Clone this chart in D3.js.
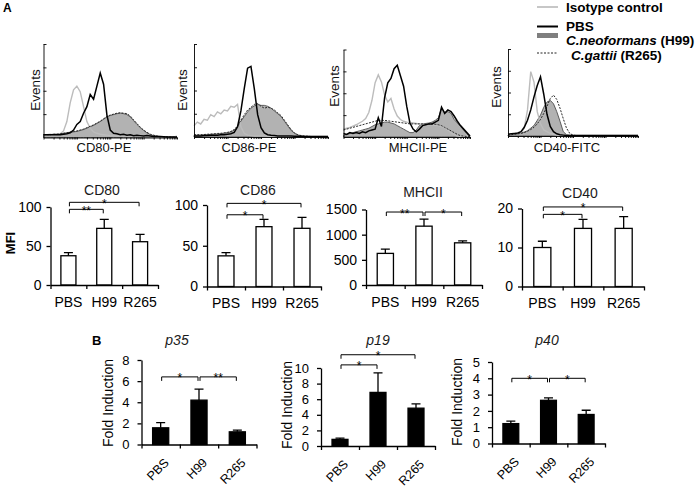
<!DOCTYPE html>
<html><head><meta charset="utf-8">
<script src="https://cdn.jsdelivr.net/npm/d3@7/dist/d3.min.js"></script>
<style>
html,body{margin:0;padding:0;background:#fff;}
svg{display:block;}
text{font-family:Arial,"Liberation Sans",Helvetica,sans-serif;}
</style></head><body>
<svg id="fig" width="700" height="488"></svg>
<script>
// ---------------- DATA ----------------
const categories = ["PBS","H99","R265"];
const histLabels = ["CD80-PE","CD86-PE","MHCII-PE","CD40-FITC"];
const legendLabels = ["Isotype control","PBS","C.neoformans","C.gattii"];
const legendStrains = ["","","(H99)","(R265)"];

// flow histograms (relative event counts, % of axis height), 41 channels across 4 log decades
const cd80Iso  = [3,3,3.5,3,3.5,4,7,17,37,51, 55,49,33,17,10,6,4.5,3.5,3,2.5, 2,2,1.5,1.5,1,1,1,1,1,1, 0.8,0.8,0.8,0.6,0.6,0.6,0.5,0.5,0.5,0.5,1.5];
const cd80PBS  = [3,3,3,3,3,3,3.5,4,5,8, 14,17,26,33,46,41,55,69,57,24, 8,4.5,4,3,3.5,2.5,3,2,2.5,2, 1.5,2,1.5,1,1,1,0.8,0.6,0.5,0.5,0.5];
const cd80H99  = [3,3,3,3.5,3.5,4,4.5,5,5.5,6, 6.5,7.5,8.5,10,11.5,13,15,17,19.5,22, 23.5,24.5,25.5,26,25.5,24.5,22,18,14,10.5, 7.5,5,3,2,1.5,1,1,0.8,0.6,0.5,0.5];
const cd80R265 = [3,3,3,3.5,3.5,4,4.5,5,6,6.5, 7,8,9,10.5,12,13.5,15.5,17.5,20,22.5, 24,25,26,26.5,26,25.5,23,19,15,11, 8,5.5,3.5,2.5,1.5,1,1,0.8,0.6,0.5,0.5];

const cd86Iso  = [12,16,14,19,18,24,22,27,25,29, 28,33,32,35,11,4,2,1.5,1,1, 1,1,0.8,0.8,0.8,0.8,0.6,0.6,0.6,0.6, 0.5,0.5,0.5,0.5,0.5,0.5,0.5,0.5,0.5,0.5,0.5];
const cd86PBS  = [1,1,1,1.5,1.5,2,2,2,2.5,2.5, 3,3.5,5,11,28,52,74,76,52,24, 10,4.5,2.5,1.8,1.5,1.2,1,1,1,1, 0.8,0.8,0.8,0.6,0.6,0.6,0.5,0.5,0.5,0.5,0.5];
const cd86H99  = [1.8,2,2,2.2,2.5,2.8,3,3.3,3.6,4, 4.7,5.5,7.5,11,17,22,27,31,33.5,35, 34,34,33,31,28,25,22,17,12,7, 4,2,1,0.8,0.7,0.5,0.5,0.5,0.5,0.5,0.5];
const cd86R265 = [2.5,2.5,2.5,2.7,3,3.2,3.5,3.8,4,4.5, 5,6,8,12,18,24,29,32,35,36, 33,31,32,31,29,26,23,18,13,8, 4.5,2.5,1.5,1,0.8,0.5,0.5,0.5,0.5,0.5,0.5];

const mhcIso   = [9,10,11,12.5,14,16,18,21,28,42, 62,71,63,48,40,44,32,24,20,18, 17,16.5,16,15.5,15,15,14.5,14,14,13.5, 13,12,11,8,5,2.5,1,0.5,0.5,0.5,0.5];
const mhcPBS   = [4,3,5,4,5,4,6,5,7,8, 9,22,12,45,62,67,78,82,70,58, 35,16,9,6,9,13,14,15,15,17, 19,34,27,31,29,24,18,13,9,5,1];
const mhcH99   = [2,3,4,5,6,7,8,9,10,12, 14,15,16,17,17,16,15,13,11,9, 7,5,5,8,13,15,15.5,16,17,19, 22,33,28,29,27,20,16,12,8,4,0.5];
const mhcR265  = [8,9,10,11,12,13,14,15,16,17, 18,19,19,19,18.5,18,17.5,17,16.5,16, 15.5,15,15,15,15,15,15,15,15,14.5, 14,13,11,9,7,5,3,1.5,1,0.5,0.5];

const cd40Iso  = [2,2,2.5,3,4,9,30,74,62,28, 14,7,5,3,2,1,0.5,0.5,0.5,0.5, 0.5,0.5,0.5,0.5,0.5,0.5,0.5,0.5,0.5,0.5, 0.5,0.5,0.5,0.5,0.5,0.5,0.5,0.5,0.5,0.5,0.5];
const cd40PBS  = [2,2.5,3,3.5,5,10,18,30,45,58, 68,48,25,11,5,2.5,1.5,1,0.5,0.5, 0.5,0.5,0.5,0.5,0.5,0.5,0.5,0.5,0.5,0.5, 0.5,0.5,0.5,0.5,0.5,0.5,0.5,0.5,0.5,0.5,0.5];
const cd40H99  = [1,1.5,2,2.5,3.5,4.5,6,9,12,18, 24,33,39,41,37,28,17,5,1.5,0.8, 0.5,0.5,0.5,0.5,0.5,0.5,0.5,0.5,0.5,0.5, 0.5,0.5,0.5,0.5,0.5,0.5,0.5,0.5,0.5,0.5,0.5];
const cd40R265 = [1,1.5,2,2.5,3,4,5.5,7.5,10,14, 19,26,34,43,47,42,32,20,9,3, 1,0.5,0.5,0.5,0.5,0.5,0.5,0.5,0.5,0.5, 0.5,0.5,0.5,0.5,0.5,0.5,0.5,0.5,0.5,0.5,0.5];

// bar charts: mean and upper SD
const cd80Mean = [37.5,72.6,55.5],  cd80Err = [4,11.5,9.5];
const cd86Mean = [37.6,73.4,71.4],  cd86Err = [4,9,13.5];
const mhcMean  = [628,1169,838],    mhcErr  = [85,139,40];
const cd40Mean = [10,14.9,14.9],    cd40Err = [1.6,2.3,3];
const p35Mean  = [1.58,4.2,1.2],    p35Err  = [0.5,1.05,0.16];
const p19Mean  = [0.85,6.87,4.85],  p19Err  = [0.15,2.5,0.55];
const p40Mean  = [1.22,2.65,1.78],  p40Err  = [0.15,0.15,0.26];

const cd80Ticks = [0,50,100];
const cd86Ticks = [0,50,100];
const mhcTicks  = [0,500,1000,1500];
const cd40Ticks = [0,10,20];
const p35Ticks  = [0,2,4,6,8];
const p19Ticks  = [0,2,4,6,8,10];
const p40Ticks  = [0,1,2,3,4,5];

// significance brackets: [from, to, level, stars]
const cd80Sig = [["PBS","H99",97,"**"],["PBS","R265",106,"*"]];
const cd86Sig = [["PBS","H99",88,"*"],["PBS","R265",102,"*"]];
const mhcSig  = [["PBS","H99",1450,"**"],["H99","R265",1450,"*"]];
const cd40Sig = [["PBS","H99",18.5,"*"],["PBS","R265",20.4,"*"]];
const p35Sig  = [["PBS","H99",6.4,"*"],["H99","R265",6.4,"**"]];
const p19Sig  = [["PBS","H99",10.4,"*"],["PBS","R265",11.7,"*"]];
const p40Sig  = [["PBS","H99",4.0,"*"],["H99","R265",4.0,"*"]];

// ---------------- DRAW ----------------
const svg = d3.select("#fig");
svg.append("rect").attr("width",700).attr("height",488).attr("fill","#fff");

svg.append("text").attr("x",3).attr("y",12).attr("font-size",12).attr("font-weight","bold").text("A");
svg.append("text").attr("x",92).attr("y",345).attr("font-size",13).attr("font-weight","bold").text("B");

// ---- histograms ----
const histPanels = [
  {name:histLabels[0], x0:43.5, x1:177, yTop:44, yBot:137.5, evX:40, evY:90, labX:104, s:[cd80Iso,cd80PBS,cd80H99,cd80R265]},
  {name:histLabels[1], x0:194, x1:328, yTop:44, yBot:137, evX:187, evY:90, labX:249, s:[cd86Iso,cd86PBS,cd86H99,cd86R265]},
  {name:histLabels[2], x0:343.5, x1:470, yTop:49.5, yBot:137, evX:339, evY:86, labX:418, s:[mhcIso,mhcPBS,mhcH99,mhcR265]},
  {name:histLabels[3], x0:508, x1:638, yTop:49, yBot:136, evX:501, evY:87, labX:567, s:[cd40Iso,cd40PBS,cd40H99,cd40R265]}
];

histPanels.forEach(p=>{
  const g = svg.append("g");
  const n = p.s[0].length;
  const xs = d3.scaleLinear().domain([0,n-1]).range([p.x0,p.x1]);
  const ys = d3.scaleLinear().domain([0,100]).range([p.yBot,p.yTop]);
  const line = d3.line().x((d,i)=>xs(i)).y(d=>ys(d));
  const area = d3.area().x((d,i)=>xs(i)).y0(ys(0)).y1(d=>ys(d));
  g.append("path").datum(p.s[2]).attr("d",area).attr("fill","#b2b2b2").attr("stroke","#4d4d4d").attr("stroke-width",0.9);
  g.append("path").datum(p.s[0]).attr("d",line).attr("fill","none").attr("stroke","#bcbcbc").attr("stroke-width",1.4);
  g.append("path").datum(p.s[3]).attr("d",line).attr("fill","none").attr("stroke","#2a2a2a").attr("stroke-width",1).attr("stroke-dasharray","2,1.3");
  g.append("path").datum(p.s[1]).attr("d",line).attr("fill","none").attr("stroke","#000").attr("stroke-width",1.5);

  const xl = d3.scaleLog().domain([1,10000]).range([p.x0,p.x1]);
  const ax = g.append("g").attr("transform",`translate(0,${p.yBot})`)
    .call(d3.axisBottom(xl).tickValues(xl.ticks()).tickSize(2).tickSizeOuter(0).tickFormat(""));
  ax.selectAll("path,line").attr("stroke","#000").attr("stroke-width",0.9);
  const ay = g.append("g").attr("transform",`translate(${p.x0},0)`)
    .call(d3.axisRight(ys).tickValues([25,50,75,100]).tickSize(3).tickSizeOuter(0).tickFormat(""));
  ay.selectAll("path,line").attr("stroke","#000").attr("stroke-width",0.9);

  g.append("text").attr("transform",`translate(${p.evX},${p.evY}) rotate(-90)`)
    .attr("text-anchor","middle").attr("font-size",13.5).attr("fill","#111").text("Events");
  g.append("text").attr("x",p.labX).attr("y",152).attr("text-anchor","middle")
    .attr("font-size",13).attr("fill","#111").text(p.name);
});

// legend
const lg = svg.append("g").attr("font-size",13.5).attr("font-weight","bold").attr("fill","#000");
lg.append("line").attr("x1",537).attr("x2",558).attr("y1",7).attr("y2",7).attr("stroke","#b5b5b5").attr("stroke-width",1.5);
lg.append("line").attr("x1",537).attr("x2",558).attr("y1",26.5).attr("y2",26.5).attr("stroke","#000").attr("stroke-width",2);
lg.append("rect").attr("x",537).attr("width",21).attr("y",33).attr("height",5).attr("fill","#7f7f7f");
lg.append("line").attr("x1",537).attr("x2",558).attr("y1",53).attr("y2",53).attr("stroke","#222").attr("stroke-width",1).attr("stroke-dasharray","2,1.5");
const legY = [12,30.5,45,59.5], legX = [566,566,566,571];
legendLabels.forEach((t,i)=>{
  const tx = lg.append("text").attr("x",legX[i]).attr("y",legY[i]);
  if(i>=2){
    tx.append("tspan").attr("font-style","italic").text(t);
    tx.append("tspan").text(" "+legendStrains[i]);
  } else tx.text(t);
});

// ---- bar charts ----
function barChart(c){
  const g = svg.append("g");
  const x = d3.scaleBand().domain(categories).range([c.x0,c.x1]).paddingInner(0.58).paddingOuter(0.29);
  const y = d3.scaleLinear().domain([0,c.max]).range([c.yZero,c.yMax]);
  const data = categories.map((k,i)=>({k, v:c.mean[i], e:c.err[i]}));

  g.selectAll(".bar").data(data).join("rect")
    .attr("x",d=>x(d.k)).attr("width",x.bandwidth())
    .attr("y",d=>y(d.v)).attr("height",d=>y(0)-y(d.v))
    .attr("fill",c.fill).attr("stroke","#000").attr("stroke-width",1.3);
  const cx = k=>x(k)+x.bandwidth()/2;
  g.selectAll(".err").data(data).join("path")
    .attr("d",d=>`M${cx(d.k)},${y(d.v)}V${y(d.v+d.e)}M${cx(d.k)-4.5},${y(d.v+d.e)}H${cx(d.k)+4.5}`)
    .attr("stroke","#000").attr("stroke-width",1.3).attr("fill","none");

  const ay = g.append("g").attr("transform",`translate(${c.x0},0)`)
    .call(d3.axisLeft(y).tickValues(c.ticks).tickFormat(d3.format("d")).tickSize(4).tickSizeOuter(0).tickPadding(c.tickPad));
  ay.selectAll("path,line").attr("stroke","#000").attr("stroke-width",1.3);
  ay.selectAll("text").attr("font-size",c.tickFont).attr("fill","#000")
    .attr("font-family","Arial,'Liberation Sans',sans-serif");

  const xb = d3.scaleLinear().domain([0,categories.length]).range([c.x0,c.x1]);
  const axl = g.append("g").attr("transform",`translate(0,${c.yZero})`)
    .call(d3.axisBottom(xb).tickValues(d3.range(0,categories.length+1)).tickSize(4).tickSizeOuter(0).tickFormat(""));
  axl.selectAll("path,line").attr("stroke","#000").attr("stroke-width",1.3);

  const axc = g.append("g").attr("transform",`translate(0,${c.yZero})`)
    .call(d3.axisBottom(x).tickSize(0).tickPadding(12));
  axc.select(".domain").remove();
  axc.selectAll("text").attr("font-size",c.catFont).attr("fill","#000")
    .attr("font-family","Arial,'Liberation Sans',sans-serif");
  if(c.rotate){
    axc.selectAll("text").attr("text-anchor","end").attr("dy",null)
      .attr("x",9).attr("y",19).attr("transform","rotate(-45,9,19)");
  }

  c.sig.forEach(s=>{
    const a = cx(s[0])+1, b = cx(s[1])-1, yy = y(s[2]);
    g.append("path").attr("d",`M${a},${yy+4}V${yy}H${b}V${yy+4}`)
      .attr("fill","none").attr("stroke","#000").attr("stroke-width",1);
    g.append("text").attr("x",(a+b)/2).attr("y",yy+5.5).attr("text-anchor","middle")
      .attr("font-size",12).attr("fill","#000").text(s[3]);
  });

  g.append("text").attr("x",c.titleX).attr("y",c.titleY).attr("text-anchor","middle")
    .attr("font-size",c.titleFont).attr("font-style",c.italic?"italic":"normal")
    .attr("fill","#1a1a1a").text(c.title);

  if(c.ylab){
    g.append("text").attr("transform",`translate(${c.ylabX},${c.ylabY}) rotate(-90)`)
      .attr("text-anchor","middle").attr("font-size",c.ylabFont)
      .attr("font-weight",c.ylabBold?"bold":"normal").attr("fill","#000").text(c.ylab);
  }
}

const row1 = {fill:"#fff", tickPad:5, tickFont:14, catFont:14, titleFont:14, titleY:195, rotate:false};
barChart(Object.assign({}, row1, {x0:50.5,x1:158,yZero:285,yMax:207,max:100,mean:cd80Mean,err:cd80Err,ticks:cd80Ticks,sig:cd80Sig,title:"CD80",titleX:102,ylab:"MFI",ylabX:15,ylabY:243,ylabFont:13,ylabBold:true}));
barChart(Object.assign({}, row1, {x0:207,x1:321,yZero:286.5,yMax:205,max:100,mean:cd86Mean,err:cd86Err,ticks:cd86Ticks,sig:cd86Sig,title:"CD86",titleX:258}));
barChart(Object.assign({}, row1, {x0:366,x1:482,yZero:285,yMax:209.5,max:1500,mean:mhcMean,err:mhcErr,ticks:mhcTicks,sig:mhcSig,title:"MHCII",titleX:423,titleY:196.5}));
barChart(Object.assign({}, row1, {x0:522,x1:644,yZero:286.5,yMax:208.5,max:20,mean:cd40Mean,err:cd40Err,ticks:cd40Ticks,sig:cd40Sig,title:"CD40",titleX:580,titleY:198}));

const row2 = {fill:"#000", tickPad:8, tickFont:13, catFont:12.5, titleFont:14, titleY:345, italic:true, rotate:true, ylab:"Fold Induction", ylabFont:14};
barChart(Object.assign({}, row2, {x0:141.5,x1:256.5,yZero:444.5,yMax:360,max:8,mean:p35Mean,err:p35Err,ticks:p35Ticks,sig:p35Sig,title:"p35",titleX:177,ylabX:113,ylabY:403}));
barChart(Object.assign({}, row2, {x0:321,x1:435,yZero:446,yMax:368,max:10,mean:p19Mean,err:p19Err,ticks:p19Ticks,sig:p19Sig,title:"p19",titleX:378,ylabX:292,ylabY:405}));
barChart(Object.assign({}, row2, {x0:492,x1:605,yZero:443.5,yMax:362,max:5,mean:p40Mean,err:p40Err,ticks:p40Ticks,sig:p40Sig,title:"p40",titleX:547,ylabX:462,ylabY:402}));
</script>
</body></html>
